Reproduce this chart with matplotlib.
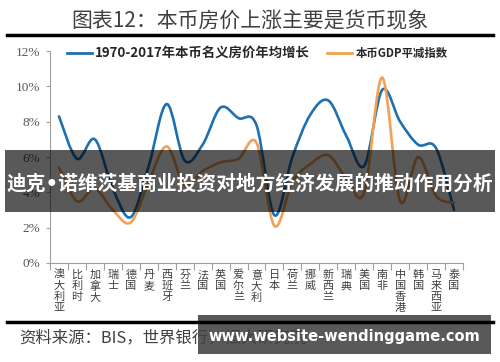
import matplotlib
matplotlib.use("Agg")
import matplotlib.pyplot as plt
from matplotlib.path import Path
from matplotlib.patches import PathPatch, Rectangle
from matplotlib.lines import Line2D
import numpy as np

plt.rcParams['font.family'] = ['Noto Sans CJK SC', 'DejaVu Sans']

# Data (%)
countries = ['澳大利亚', '比利时', '加拿大', '瑞士', '德国', '丹麦', '西班牙', '芬兰',
             '法国', '英国', '爱尔兰', '意大利', '日本', '荷兰', '挪威', '新西兰',
             '瑞典', '美国', '南非', '中国香港', '韩国', '马来西亚', '泰国']
house_growth = [8.3, 5.9, 7.0, 4.2, 2.6, 5.5, 9.0, 5.8, 6.7, 8.8, 8.2, 7.8,
                2.7, 6.0, 8.4, 9.2, 7.2, 5.5, 9.8, 8.0, 6.7, 6.5, 3.0]
gdp_deflator = [5.4, 3.5, 4.2, 3.0, 2.3, 4.6, 6.6, 4.4, 5.2, 5.7, 5.9, 6.8,
                2.1, 4.6, 5.6, 6.1, 4.8, 4.0, 10.5, 3.5, 6.0, 3.8, 3.4]
series_names = ['1970-2017年本币名义房价年均增长', '本币GDP平减指数']
yticks = [0, 2, 4, 6, 8, 10, 12]

BLUE = '#1f70b0'
ORANGE = '#f2a154'


def smooth_path(xs, ys):
    # Excel-like smoothed line: Catmull-Rom through the points, drawn as cubic Beziers
    pts = np.column_stack([xs, ys]).astype(float)
    n = len(pts)
    verts = [pts[0]]
    codes = [Path.MOVETO]
    for i in range(n - 1):
        p0 = pts[max(i - 1, 0)]
        p1 = pts[i]
        p2 = pts[i + 1]
        p3 = pts[min(i + 2, n - 1)]
        verts += [p1 + (p2 - p0) / 6, p2 - (p3 - p1) / 6, p2]
        codes += [Path.CURVE4] * 3
    return Path(verts, codes)


fig = plt.figure(figsize=(5, 3.62), dpi=100)
ax = fig.add_axes([0.10, 0.2735, 0.826, 0.5855])

x = np.arange(len(countries))
for vals, col in [(house_growth, BLUE), (gdp_deflator, ORANGE)]:
    ax.add_patch(PathPatch(smooth_path(x, vals), facecolor='none', edgecolor=col,
                           lw=1.9, capstyle='round', joinstyle='round'))

ax.set_xlim(-0.5, len(countries) - 0.5)
ax.set_ylim(0, 12)
ax.set_yticks(yticks)
ax.set_yticklabels([f'{v}%' for v in yticks], fontsize=9.5, color='#595959',
                   family='Liberation Serif')
ax.set_xticks(x)
ax.set_xticklabels(['\n'.join(c) for c in countries], fontsize=8,
                   color='#404040', linespacing=1.12)
ax.set_xticks(np.arange(len(countries) + 1) - 0.5, minor=True)
ax.tick_params(axis='x', which='major', length=0, pad=5)
ax.tick_params(axis='x', which='minor', length=5, color='#a0a0a0', width=0.8)
ax.tick_params(axis='y', length=3, color='#a0a0a0', width=0.8, pad=4)
for s in ['top', 'right']:
    ax.spines[s].set_visible(False)
for s in ['left', 'bottom']:
    ax.spines[s].set_color('#a0a0a0')
    ax.spines[s].set_linewidth(0.8)

# legend drawn along the top of the plot
W, H = 500.0, 362.0
def fx(px):
    return px / W
def fy(py):
    return 1 - py / H

fig.add_artist(Line2D([fx(67), fx(92)], [fy(53), fy(53)], color=BLUE, lw=2))
fig.text(fx(95), fy(53), series_names[0], fontsize=9.6, fontweight='bold',
         color='#262626', va='center', ha='left')
fig.add_artist(Line2D([fx(327), fx(352)], [fy(53), fy(53)], color=ORANGE, lw=2))
fig.text(fx(356), fy(53), series_names[1], fontsize=8.2, fontweight='bold',
         color='#262626', va='center', ha='left')

# title and rules
fig.text(0.5, fy(21), '图表12：本币房价上涨主要是货币现象', fontsize=15,
         color='#404040', ha='center', va='center')
fig.add_artist(Line2D([fx(7), fx(493)], [fy(34.5), fy(34.5)], color='black', lw=2.5))
fig.add_artist(Line2D([fx(7), fx(493)], [fy(321.5), fy(321.5)], color='black', lw=2.5))
fig.text(fx(19), fy(338), '资料来源：BIS，世界银行，恒大研究院', fontsize=11.8,
         color='#404040', ha='left', va='center', style='italic')

# overlay band and watermark
fig.add_artist(Rectangle((fx(5), fy(212)), fx(490), 62 / H, transform=fig.transFigure,
                         facecolor='black', alpha=0.65, edgecolor='none'))
fig.text(0.5, fy(184), '迪克•诺维茨基商业投资对地方经济发展的推动作用分析', fontsize=14.2,
         fontweight='bold', color='white', ha='center', va='center',
         family=['DejaVu Sans', 'Noto Sans CJK SC'])
fig.add_artist(Rectangle((fx(198), fy(354)), fx(293), 39 / H, transform=fig.transFigure,
                         facecolor='black', alpha=0.65, edgecolor='none'))
fig.text(fx(344), fy(336), 'www.website-wendinggame.com', fontsize=10.5,
         fontweight='bold', color='white', ha='center', va='center',
         family='DejaVu Sans')

fig.savefig('out.png', dpi=100)
